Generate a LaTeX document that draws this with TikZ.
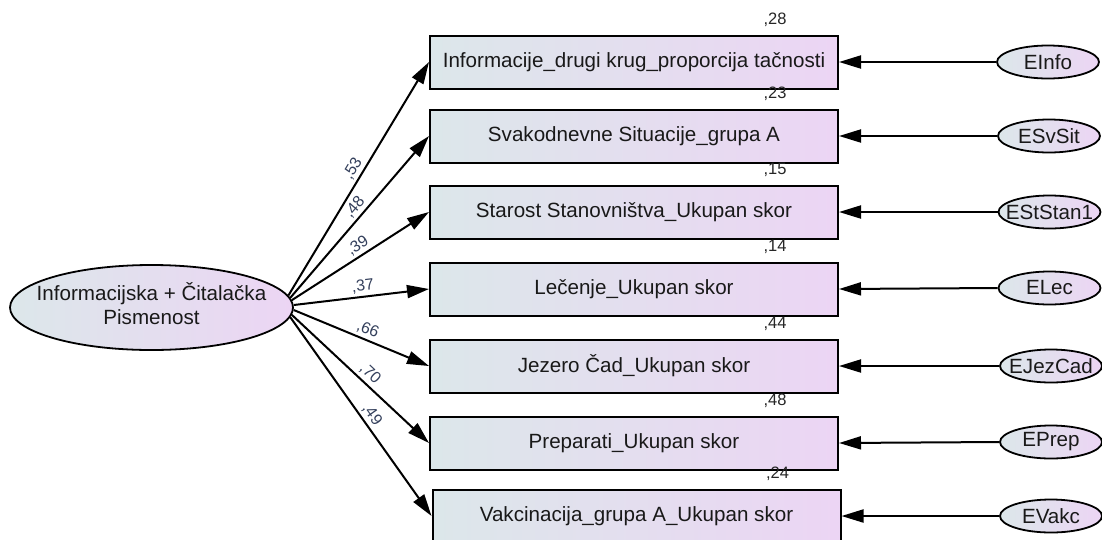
\documentclass[tikz,border=0pt]{standalone}
\usepackage{fontspec}
\setmainfont{Liberation Sans}
\usetikzlibrary{shapes.geometric,arrows.meta,calc}
\definecolor{gl}{RGB}{220,231,234}
\definecolor{gr}{RGB}{236,213,244}
\definecolor{lab}{RGB}{52,64,92}
\begin{document}
\begin{tikzpicture}[x=1pt,y=-1pt,
 obs/.style={draw=black, line width=2pt, left color=gl, right color=gr, minimum width=408pt, minimum height=53pt, inner sep=0pt, font=\fontsize{20.6}{24}\selectfont, text=black!90},
 lat/.style={ellipse, draw=black, line width=1.8pt, left color=gl, right color=gr, minimum width=283pt, minimum height=85pt, inner sep=0pt, font=\fontsize{20.6}{24}\selectfont, text=black!90},
 err/.style={ellipse, draw=black, line width=1.8pt, left color=gl, right color=gr, minimum width=102pt, minimum height=33pt, inner sep=0pt, font=\fontsize{20.6}{24}\selectfont, text=black!90},
 arr/.style={line width=2pt, -{Triangle[length=22pt,width=13pt]}},
 coef/.style={sloped, above, pos=0.52, font=\fontsize{16}{19}\selectfont, text=lab, inner sep=2.5pt},
 rsq/.style={font=\fontsize{16.5}{19}\selectfont, text=black!85, inner sep=0pt}
]
\useasboundingbox (0,0) rectangle (1102,539);
\clip (0,0) rectangle (1102,539);

\node[lat] (L) at (151.5,307.5) {\makebox[0pt]{\begin{tabular}{@{}c@{}}Informacijska + Čitalačka\\Pismenost\end{tabular}}};

\node[obs] (b1) at (634,62) {Informacije\_drugi krug\_proporcija tačnosti};
\node[obs] (b2) at (634,136) {Svakodnevne Situacije\_grupa A};
\node[obs] (b3) at (634,212) {Starost Stanovništva\_Ukupan skor};
\node[obs] (b4) at (634,289) {Lečenje\_Ukupan skor};
\node[obs] (b5) at (634,366) {Jezero Čad\_Ukupan skor};
\node[obs] (b6) at (634,443) {Preparati\_Ukupan skor};
\node[obs] (b7) at (636.5,516) {Vakcinacija\_grupa A\_Ukupan skor};

\node[err] (e1) at (1048,62) {\makebox[0pt]{EInfo}};
\node[err] (e2) at (1049,136) {\makebox[0pt]{ESvSit}};
\node[err] (e3) at (1049.5,212) {\makebox[0pt]{EStStan1}};
\node[err] (e4) at (1049.5,288) {\makebox[0pt]{ELec}};
\node[err] (e5) at (1051,366) {\makebox[0pt]{EJezCad}};
\node[err] (e6) at (1051,442) {\makebox[0pt]{EPrep}};
\node[err] (e7) at (1051,516) {\makebox[0pt]{EVakc}};

\draw[arr] (L.5) -- node[coef]{,53} (b1.west);
\draw[arr] (L.4) -- node[coef]{,48} (b2.west);
\draw[arr] (L.3) -- node[coef]{,39} (b3.west);
\draw[arr] (L.1) -- node[coef]{,37} (b4.west);
\draw[arr] (L.-1.5) -- node[coef]{,66} (b5.west);
\draw[arr] (L.-3) -- node[coef]{,70} (b6.west);
\draw[arr] (L.-4.5) -- node[coef]{,49} (b7.west);

\foreach \i in {1,...,7} { \draw[arr] (e\i.west) -- (b\i.east); }

\node[rsq] at ($(b1.north east)+(-64,-15)$) {,28};
\node[rsq] at ($(b2.north east)+(-64,-15)$) {,23};
\node[rsq] at ($(b3.north east)+(-64,-15)$) {,15};
\node[rsq] at ($(b4.north east)+(-64,-15)$) {,14};
\node[rsq] at ($(b5.north east)+(-64,-15)$) {,44};
\node[rsq] at ($(b6.north east)+(-64,-15)$) {,48};
\node[rsq] at ($(b7.north east)+(-64,-15)$) {,24};
\end{tikzpicture}
\end{document}
